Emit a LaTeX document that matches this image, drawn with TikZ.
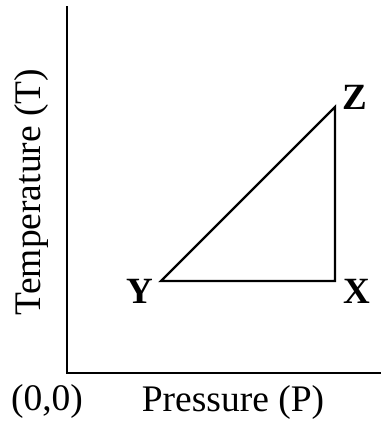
\documentclass[tikz,border=0pt]{standalone}
\usepackage{fontspec}
\setmainfont{Liberation Serif}
\usetikzlibrary{positioning}

\begin{document}
\begin{tikzpicture}[x=1pt, y=1pt,
    axis/.style={line width=2.8pt, line cap=rect},
    edge/.style={line width=2.4pt, line join=miter},
    pt/.style={font=\fontsize{37}{40}\selectfont\bfseries, inner sep=0pt},
    lbl/.style={font=\fontsize{37.5}{40}\selectfont, inner sep=0pt},
  ]
    \useasboundingbox (0,0) rectangle (381,432);

    \coordinate (O) at (67,59);
    \coordinate (ytop) at (67,425);
    \coordinate (xend) at (383,59);
    \coordinate (Y) at (161,151);
    \coordinate (X) at (335,151);
    \coordinate (Z) at (335,325);

    \draw[axis] (ytop) -- (O) -- (xend);
    \draw[edge] (Y) -- (X) -- (Z) -- cycle;

    \node[pt] (lz) at (355,335) {Z};
    \node[pt] (lx) at (357,141) {X};
    \node[pt] (ly) at (140,141) {Y};
    \node[lbl] (orig) at (47,31) {(0,0)};
    \node[lbl] (plab) at (233,30) {Pressure (P)};
    \node[lbl, rotate=90] (tlab) at (31,240) {Temperature (T)};
  \end{tikzpicture}
\end{document}
